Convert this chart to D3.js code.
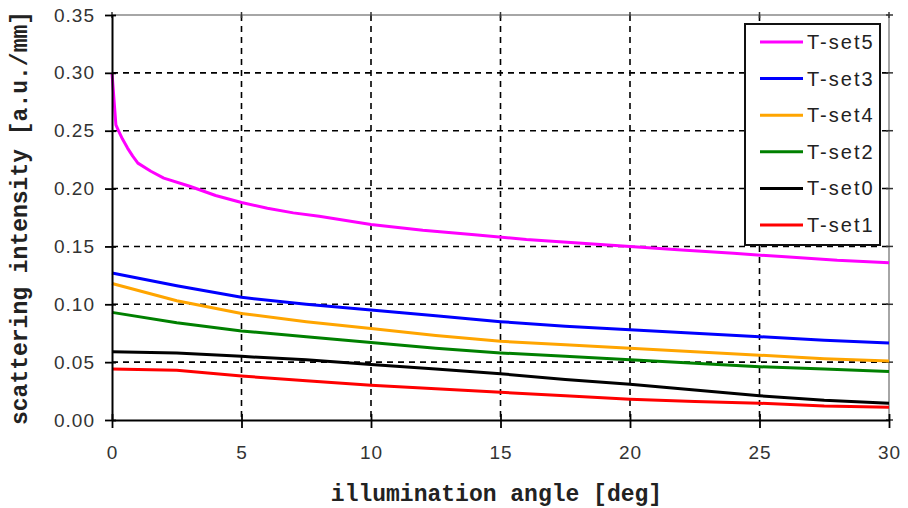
<!DOCTYPE html>
<html><head><meta charset="utf-8">
<script src="https://cdn.jsdelivr.net/npm/d3@7"></script>
<style>body{margin:0;background:#fff}svg{display:block}</style>
</head><body>
<svg id="c" width="908" height="508"></svg>
<script>
// ---- data ----
const seriesNames = ["T-set5","T-set3","T-set4","T-set2","T-set0","T-set1"];
const seriesColors = ["#ff00ff","#0000ff","#ffa500","#008000","#000000","#ff0000"];
const anglesSet5 = [0,0.05,0.1,0.15,0.25,0.4,0.6,0.8,1,1.5,2,3,4,5,6,7,8,10,12,14,16,18,20,22,24,26,28,30];
const valuesSet5 = [0.300,0.285,0.270,0.255,0.250,0.243,0.235,0.228,0.222,0.215,0.209,0.202,0.194,0.188,0.183,0.179,0.176,0.169,0.164,0.160,0.156,0.153,0.150,0.147,0.144,0.141,0.138,0.136];
const angles = [0,2.5,5,7.5,10,12.5,15,17.5,20,22.5,25,27.5,30];
const valuesSet3 = [0.127,0.116,0.106,0.100,0.095,0.090,0.085,0.081,0.078,0.075,0.072,0.069,0.0665];
const valuesSet4 = [0.118,0.103,0.092,0.085,0.079,0.073,0.068,0.065,0.062,0.059,0.056,0.053,0.051];
const valuesSet2 = [0.093,0.084,0.077,0.072,0.067,0.062,0.058,0.055,0.052,0.049,0.046,0.044,0.042];
const valuesSet0 = [0.059,0.058,0.055,0.052,0.048,0.044,0.040,0.035,0.031,0.026,0.021,0.017,0.0145];
const valuesSet1 = [0.044,0.043,0.038,0.034,0.030,0.027,0.024,0.021,0.018,0.016,0.0145,0.012,0.011];
const xTicks = [0,5,10,15,20,25,30];
const yTicks = [0,0.05,0.10,0.15,0.20,0.25,0.30,0.35];
const xLabel = "illumination angle [deg]";
const yLabel = "scattering intensity [a.u./mm]";

const series = [
  {name:"T-set5", x:anglesSet5, y:valuesSet5},
  {name:"T-set3", x:angles, y:valuesSet3},
  {name:"T-set4", x:angles, y:valuesSet4},
  {name:"T-set2", x:angles, y:valuesSet2},
  {name:"T-set0", x:angles, y:valuesSet0},
  {name:"T-set1", x:angles, y:valuesSet1}
];

// ---- layout ----
const L=112, R=889, T=15, B=420;
const svg = d3.select("#c");
const x = d3.scaleLinear().domain([0,30]).range([L,R]);
const y = d3.scaleLinear().domain([0,0.35]).range([B,T]);

// grid
const grid = svg.append("g").attr("stroke","#000").attr("stroke-width",1.6).attr("stroke-dasharray","6,5");
grid.selectAll("line.v").data(xTicks.filter(d=>d>0&&d<30)).join("line")
  .attr("x1",d=>x(d)).attr("x2",d=>x(d)).attr("y1",T).attr("y2",B);
grid.selectAll("line.h").data(yTicks.filter(d=>d>0&&d<0.35)).join("line")
  .attr("x1",L).attr("x2",R).attr("y1",d=>y(d)).attr("y2",d=>y(d));

// top/right border (grey)
svg.append("line").attr("x1",L).attr("x2",R).attr("y1",T).attr("y2",T).attr("stroke","#888").attr("stroke-width",1.5);
svg.append("line").attr("x1",R).attr("x2",R).attr("y1",T).attr("y2",B).attr("stroke","#888").attr("stroke-width",1.5);
// mirror ticks
svg.append("g").selectAll("line").data(xTicks).join("line")
  .attr("x1",d=>x(d)).attr("x2",d=>x(d)).attr("y1",T-3).attr("y2",T+3).attr("stroke","#333").attr("stroke-width",1.5);
svg.append("g").selectAll("line").data(yTicks).join("line")
  .attr("x1",R-3).attr("x2",R+4).attr("y1",d=>y(d)).attr("y2",d=>y(d)).attr("stroke","#333").attr("stroke-width",1.5);

// series
const line = d3.line().x(d=>x(d[0])).y(d=>y(d[1]));
svg.append("g").selectAll("path").data(series.slice().reverse()).join("path")
  .attr("fill","none")
  .attr("stroke",d=>seriesColors[seriesNames.indexOf(d.name)])
  .attr("stroke-width",3)
  .attr("stroke-linejoin","round")
  .attr("d",d=>line(d.x.map((v,i)=>[v,d.y[i]])));

// axes
const xAxis = svg.append("g").attr("transform",`translate(0,${B})`)
  .call(d3.axisBottom(x).tickValues(xTicks).tickFormat(d3.format("d")).tickSizeInner(8).tickSizeOuter(0).tickPadding(18));
const yAxis = svg.append("g").attr("transform",`translate(${L},0)`)
  .call(d3.axisLeft(y).tickValues(yTicks).tickFormat(d3.format(".2f")).tickSizeInner(7).tickSizeOuter(0).tickPadding(10));
[xAxis,yAxis].forEach(a=>{
  a.select(".domain").attr("stroke","#000").attr("stroke-width",2);
  a.selectAll(".tick line").attr("stroke","#000").attr("stroke-width",1.8);
  a.selectAll(".tick text").attr("fill","#333").style("font-family","'Liberation Sans',Arial,sans-serif").style("font-size","19px").style("letter-spacing","1px");
});
// inner part of ticks (crossing)
xAxis.selectAll(".tick").append("line").attr("y1",0).attr("y2",-6).attr("stroke","#000").attr("stroke-width",1.8);
yAxis.selectAll(".tick").append("line").attr("x1",0).attr("x2",4).attr("stroke","#000").attr("stroke-width",1.8);

// axis labels
svg.append("text").attr("x",(L+R)/2-4).attr("y",501).attr("text-anchor","middle")
  .style("font-family","'Liberation Mono','Courier New',monospace").style("font-weight","bold").style("font-size","23px").attr("fill","#222")
  .text(xLabel);
svg.append("text").attr("transform","translate(27,218) rotate(-90)").attr("text-anchor","middle")
  .style("font-family","'Liberation Mono','Courier New',monospace").style("font-weight","bold").style("font-size","23px").attr("fill","#222")
  .text(yLabel);

// legend
const lg = svg.append("g");
lg.append("rect").attr("x",745).attr("y",24).attr("width",135).attr("height",221)
  .attr("fill","#fff").attr("stroke","#111").attr("stroke-width",2);
const ly = d3.scalePoint().domain(seriesNames).range([42,225]);
const items = lg.selectAll("g.it").data(seriesNames).join("g").attr("transform",d=>`translate(0,${ly(d)})`);
items.append("line").attr("x1",760).attr("x2",803).attr("y1",0).attr("y2",0)
  .attr("stroke",(d,i)=>seriesColors[i]).attr("stroke-width",3);
items.append("text").attr("x",807).attr("y",7)
  .style("font-family","'Liberation Sans',Arial,sans-serif").style("font-size","20px").style("letter-spacing","2px").attr("fill","#222")
  .text(d=>d);
</script>
</body></html>
